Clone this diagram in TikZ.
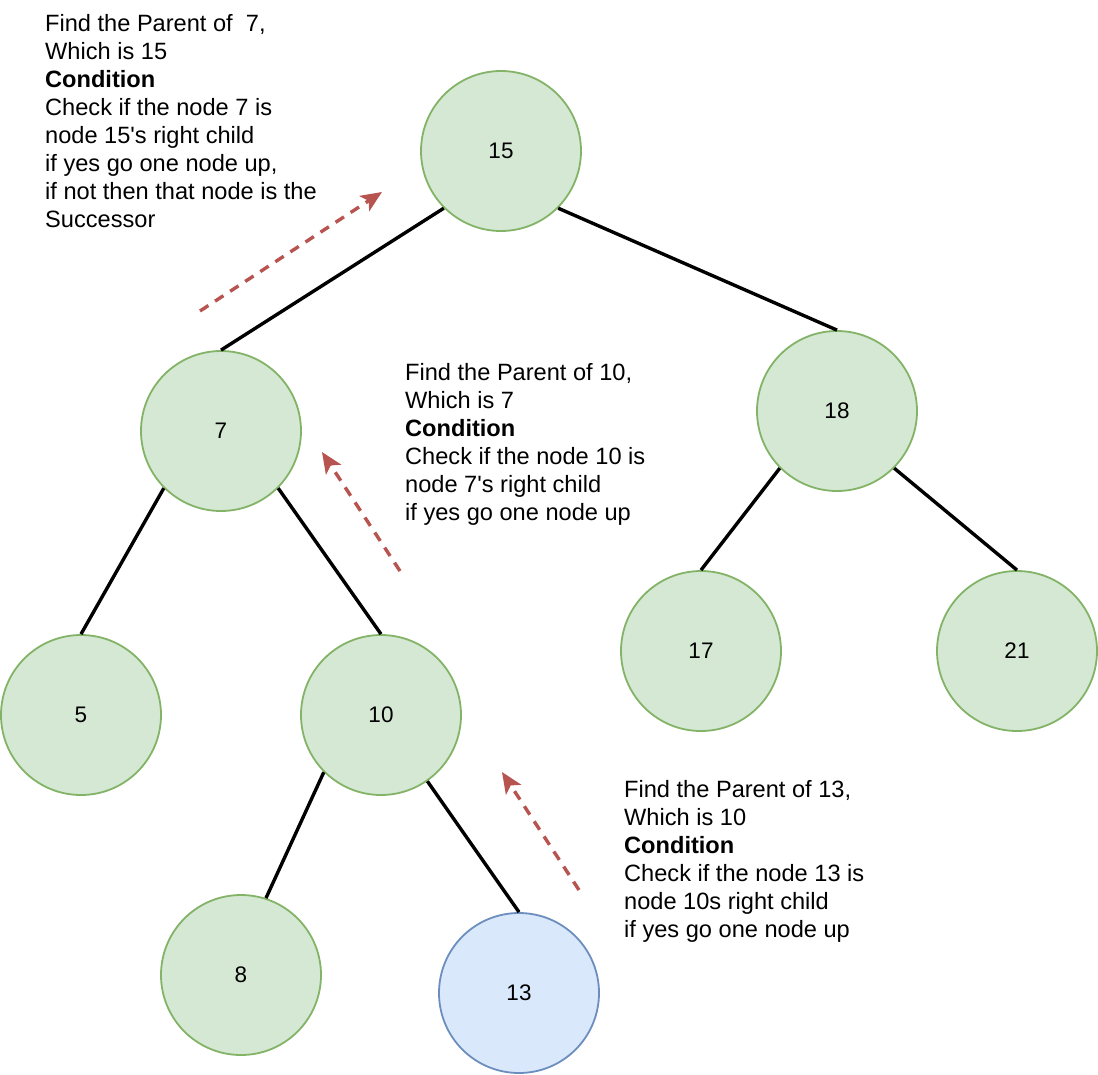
\documentclass[tikz,border=0pt]{standalone}
\usepackage{fontspec}
\setmainfont{Liberation Sans}
\usetikzlibrary{arrows.meta}
\definecolor{gfill}{HTML}{D5E8D4}
\definecolor{gline}{HTML}{82B366}
\definecolor{bfill}{HTML}{DAE8FC}
\definecolor{bline}{HTML}{6C8EBF}
\definecolor{rline}{HTML}{B85450}
\begin{document}
\begin{tikzpicture}[x=1pt,y=-1pt,
  tnode/.style={circle,minimum size=160pt,inner sep=0pt,fill=gfill,draw=gline,line width=1.8pt,font=\fontsize{22.5}{26}\selectfont},
  bnode/.style={tnode,fill=bfill,draw=bline},
  edge/.style={line width=3.4pt,black},
  hint/.style={line width=3.4pt,rline,dash pattern=on 10pt off 8pt,-{Stealth[length=21pt,width=18pt,inset=5pt]}},
  note/.style={anchor=base west,inner sep=0pt,font=\fontsize{23.6}{28}\selectfont}
]
\useasboundingbox (0,0) rectangle (1098,1074);
% tree nodes
\node[tnode] (n15) at (501,151) {15};
\node[tnode] (n7) at (221,431) {7};
\node[tnode] (n18) at (837,411) {18};
\node[tnode] (n5) at (81,715) {5};
\node[tnode] (n10) at (381,715) {10};
\node[tnode] (n17) at (701,651) {17};
\node[tnode] (n21) at (1017,651) {21};
\node[tnode] (n8) at (241,975) {8};
\node[bnode] (n13) at (519,993) {13};
% edges
\draw[edge] (n15.south west) -- (n7.north);
\draw[edge] (n15.south east) -- (n18.north);
\draw[edge] (n7.south west) -- (n5.north);
\draw[edge] (n7.south east) -- (n10.north);
\draw[edge] (n18.south west) -- (n17.north);
\draw[edge] (n18.south east) -- (n21.north);
\draw[edge] (n10.south west) -- (n8.72);
\draw[edge] (n10.-55) -- (n13.north);
% hint arrows
\coordinate (a1s) at (200,311);
\coordinate (a1e) at (382,192);
\coordinate (a2s) at (400,571);
\coordinate (a2e) at (322,452);
\coordinate (a3s) at (579,890);
\coordinate (a3e) at (502,772);
\draw[hint] (a1s) -- (a1e);
\draw[hint] (a2s) -- (a2e);
\draw[hint] (a3s) -- (a3e);
% notes
\node[note] (t1) at (45,31) {\begin{tabular}[t]{@{}l@{}}Find the Parent of\ \ 7,\\Which is 15\\\textbf{Condition}\\Check if the node 7 is\\node 15\textquotesingle s right child\\if yes go one node up,\\if not then that node is the\\Successor\end{tabular}};
\node[note] (t2) at (405,380) {\begin{tabular}[t]{@{}l@{}}Find the Parent of 10,\\Which is 7\\\textbf{Condition}\\Check if the node 10 is\\node 7\textquotesingle s right child\\if yes go one node up\end{tabular}};
\node[note] (t3) at (624,797) {\begin{tabular}[t]{@{}l@{}}Find the Parent of 13,\\Which is 10\\\textbf{Condition}\\Check if the node 13 is\\node 10s right child\\if yes go one node up\end{tabular}};
\end{tikzpicture}
\end{document}
